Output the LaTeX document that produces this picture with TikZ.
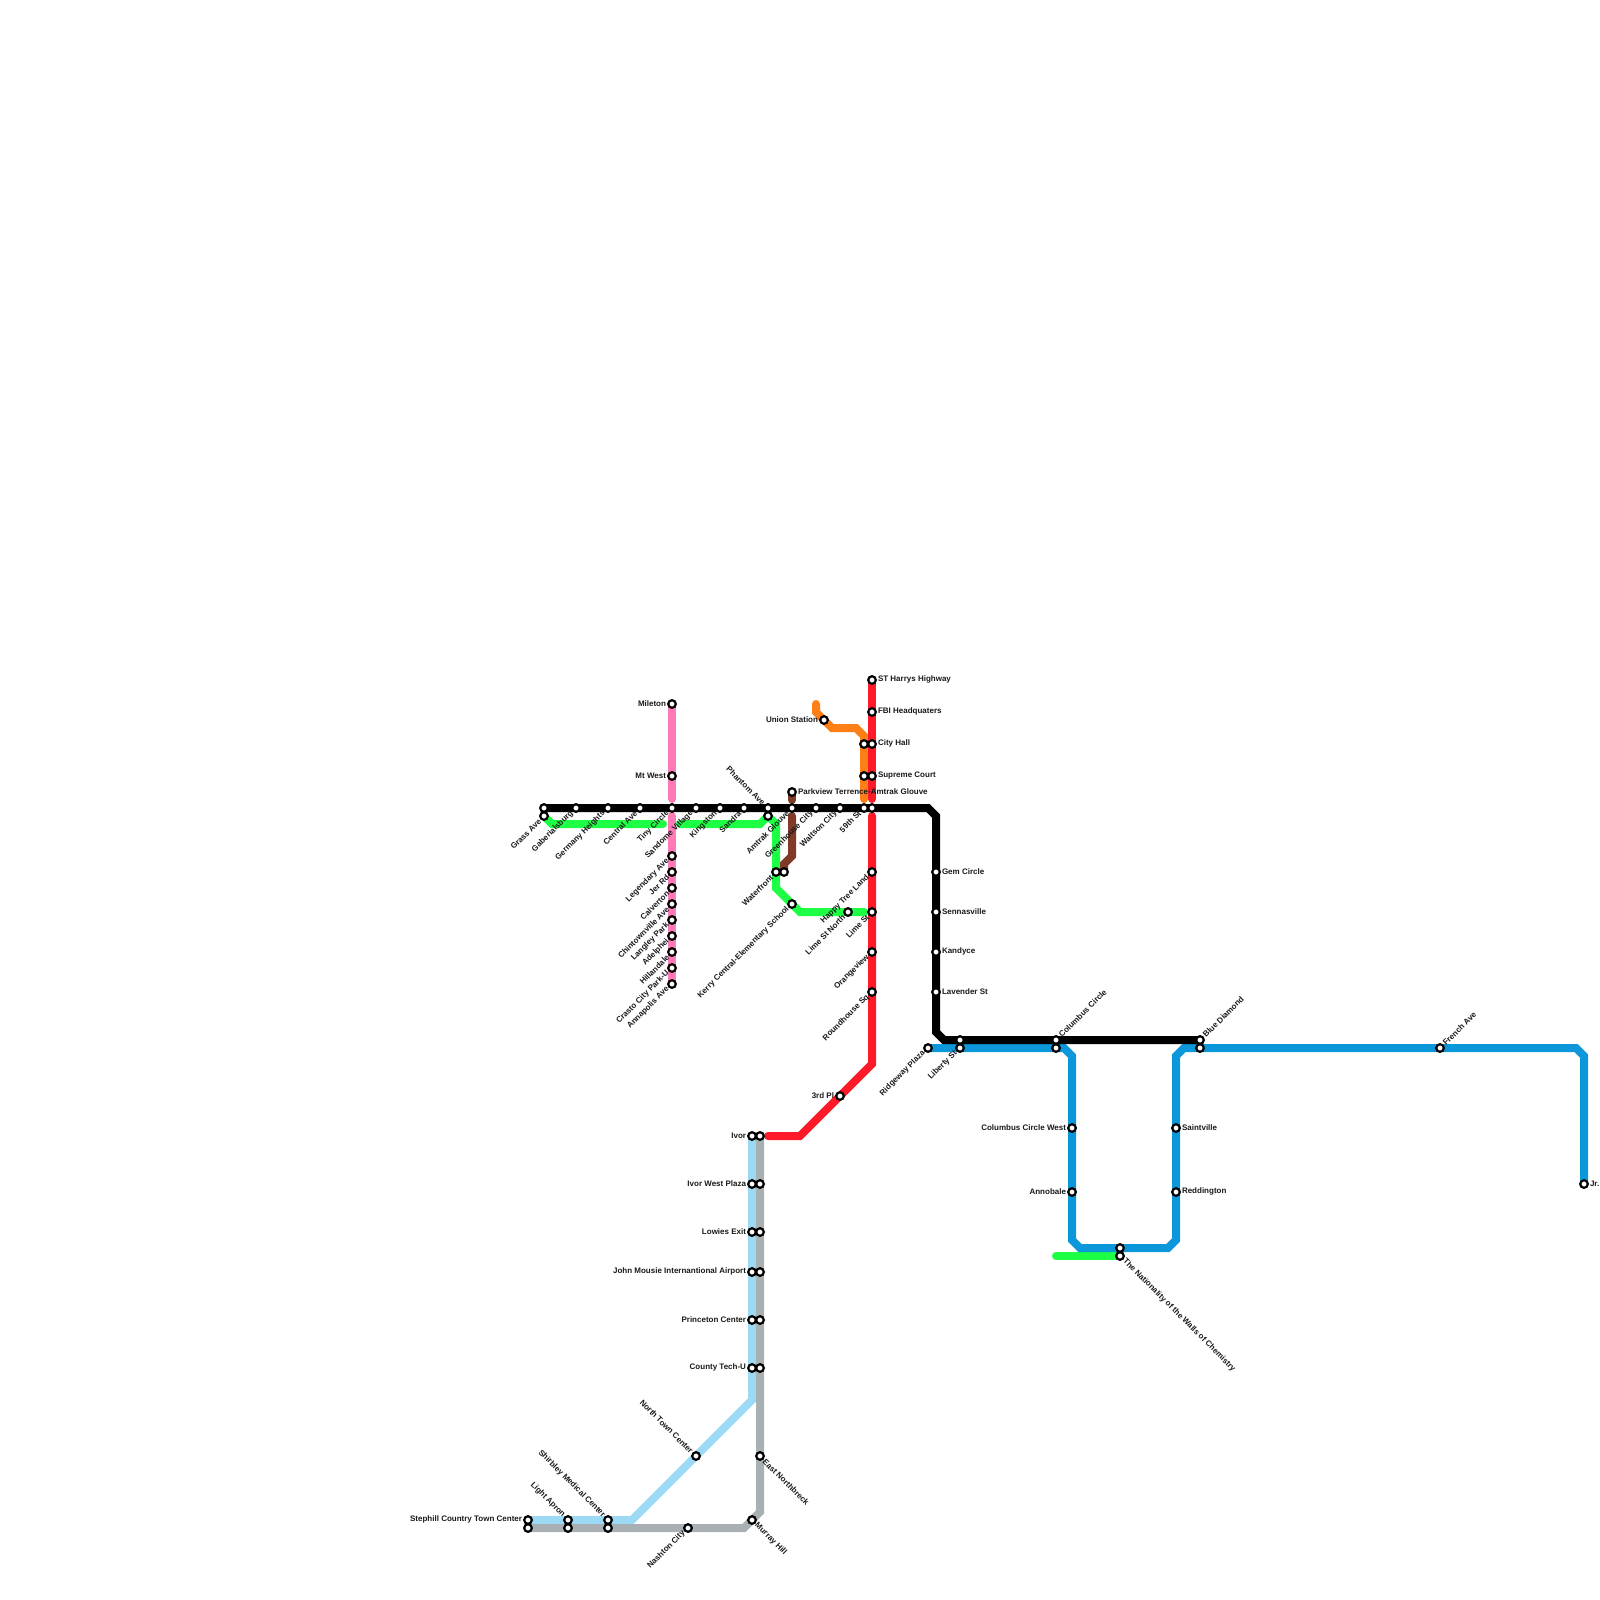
\documentclass[tikz,border=0pt]{standalone}
\usepackage{fontspec}
\setmainfont{Liberation Sans}
\pgfdeclarelayer{lines}
\pgfsetlayers{lines,main}
\definecolor{cBlack}{HTML}{000000}
\definecolor{cPink}{HTML}{FF7BB6}
\definecolor{cGreen}{HTML}{1CFF45}
\definecolor{cBrown}{HTML}{7F3A28}
\definecolor{cOrange}{HTML}{FF7F17}
\definecolor{cRed}{HTML}{FF1A2A}
\definecolor{cBlue}{HTML}{0C97DA}
\definecolor{cSky}{HTML}{9BD9F5}
\definecolor{cGray}{HTML}{A9B0B3}
\tikzset{
  x=1pt,y=-1pt,
  stop/.style={circle,draw=black,fill=white,line width=2.2pt,minimum size=7.6pt,inner sep=0pt,outer sep=0pt},
  metro/.style={line width=8pt,line cap=round,line join=miter,miter limit=10},
  lab/.style={font=\fontsize{8}{9}\selectfont\bfseries,text=black!90,inner sep=0pt,outer sep=0pt},
  dirR/.style={lab,anchor=west,xshift=6pt,yshift=0.3pt},
  dirL/.style={lab,anchor=east,xshift=-6pt,yshift=0.3pt},
  dirDL/.style={lab,anchor=east,xshift=-4.2pt,yshift=-4.2pt,rotate=45},
  dirUR/.style={lab,anchor=west,xshift=4.2pt,yshift=4.2pt,rotate=45},
  dirDR/.style={lab,anchor=west,xshift=4.2pt,yshift=-4.2pt,rotate=-45},
  dirUL/.style={lab,anchor=east,xshift=-4.2pt,yshift=4.2pt,rotate=-45},
}
\newcommand{\stn}[5]{%
  \node[stop] (#1) at (#2,#3) {};
  \node[dir#4] (#1-label) at (#2,#3) {#5};}
\newcommand{\plainstn}[3]{\node[stop] (#1) at (#2,#3) {};}
\begin{document}
\begin{tikzpicture}
\useasboundingbox (0,0) rectangle (1600,1600);
% ---- stations: black line
\plainstn{kGrass}{544}{808}
\stn{kGaber}{576}{808}{DL}{Gaberialsburg}
\stn{kGermany}{608}{808}{DL}{Germany Heights}
\stn{kCentral}{640}{808}{DL}{Central Ave}
\stn{kTiny}{672}{808}{DL}{Tiny Circle}
\stn{kSandome}{696}{808}{DL}{Sandome Village}
\stn{kKingston}{720}{808}{DL}{Kingston}
\stn{kSandra}{744}{808}{DL}{Sandra}
\stn{kPhantom}{768}{808}{UL}{Phantom Ave}
\stn{kAmtrak}{792}{808}{DL}{Amtrak Glouve}
\stn{kGreenhouse}{816}{808}{DL}{Greenhouse City}
\stn{kWaltson}{840}{808}{DL}{Waltson City}
\stn{k59th}{864}{808}{DL}{59th St}
\plainstn{k59b}{872}{808}
\stn{kGem}{936}{872}{R}{Gem Circle}
\stn{kSenna}{936}{912}{R}{Sennasville}
\stn{kKandyce}{936}{952}{R}{Kandyce}
\stn{kLavender}{936}{992}{R}{Lavender St}
\plainstn{kLiberty}{960}{1040}
\stn{kColumbus}{1056}{1040}{UR}{Columbus Circle}
\stn{kDiamond}{1200}{1040}{UR}{Blue Diamond}
\coordinate (kB1) at (928,808); \coordinate (kB2) at (936,816);
\coordinate (kB3) at (936,1032); \coordinate (kB4) at (944,1040);
% ---- pink
\stn{pMileton}{672}{704}{L}{Mileton}
\stn{pMtWest}{672}{776}{L}{Mt West}
\coordinate (pGapA) at (672,799); \coordinate (pGapB) at (672,816);
\stn{pLegend}{672}{856}{DL}{Legendary Ave}
\stn{pJer}{672}{872}{DL}{Jer Rd}
\stn{pCalv}{672}{888}{DL}{Calverton}
\stn{pChin}{672}{904}{DL}{Chintownville Ave}
\stn{pLang}{672}{920}{DL}{Langley Park}
\stn{pAdel}{672}{936}{DL}{Adelphei}
\stn{pHill}{672}{952}{DL}{Hillandale}
\stn{pCrasto}{672}{968}{DL}{Crasto City Park-U}
\stn{pAnna}{672}{984}{DL}{Annapolis Ave}
% ---- green
\stn{gGrass}{544}{816}{DL}{Grass Ave}
\plainstn{gAmtrak}{768}{816}
\stn{gWater}{776}{872}{DL}{Waterfront}
\stn{gKerry}{792}{904}{DL}{Kerry Central-Elementary School}
\stn{gLimeN}{848}{912}{DL}{Lime St North}
\coordinate (gA) at (552,824); \coordinate (gB) at (663,824);
\coordinate (gC) at (680,824); \coordinate (gD) at (760,824);
\coordinate (gE) at (776,824); \coordinate (gF) at (776,888);
\coordinate (gG) at (800,912); \coordinate (gH) at (864,912);
% ---- brown
\stn{bParkview}{792}{792}{R}{Parkview Terrence-Amtrak Glouve}
\plainstn{bGreen}{784}{872}
\coordinate (bTop) at (792,800); \coordinate (bB) at (792,816);
\coordinate (bC) at (792,856); \coordinate (bD) at (784,864);
% ---- orange
\stn{oUnion}{824}{720}{L}{Union Station}
\plainstn{oCity}{864}{744}
\plainstn{oCourt}{864}{776}
\coordinate (oA) at (816,704); \coordinate (oB) at (816,712);
\coordinate (oC) at (832,728); \coordinate (oD) at (856,728);
\coordinate (oE) at (864,736); \coordinate (oF) at (864,799);
% ---- red
\stn{rHarrys}{872}{680}{R}{ST Harrys Highway}
\stn{rFBI}{872}{712}{R}{FBI Headquaters}
\stn{rCity}{872}{744}{R}{City Hall}
\stn{rCourt}{872}{776}{R}{Supreme Court}
\stn{rHappy}{872}{872}{DL}{Happy Tree Land}
\stn{rLime}{872}{912}{DL}{Lime St}
\stn{rOrange}{872}{952}{DL}{Orangeview}
\stn{rRound}{872}{992}{DL}{Roundhouse Sq}
\stn{r3rd}{840}{1096}{L}{3rd Pl}
\coordinate (rA) at (872,799); \coordinate (rB) at (872,816);
\coordinate (rC) at (872,1064); \coordinate (rD) at (800,1136);
\coordinate (rE) at (768,1136);
% ---- blue
\stn{uRidge}{928}{1048}{DL}{Ridgeway Plaza}
\stn{uLiberty}{960}{1048}{DL}{Liberty St}
\plainstn{uColumbus}{1056}{1048}
\stn{uColW}{1072}{1128}{L}{Columbus Circle West}
\stn{uAnno}{1072}{1192}{L}{Annobale}
\plainstn{uNat}{1120}{1248}
\stn{uSaint}{1176}{1128}{R}{Saintville}
\stn{uRedd}{1176}{1192}{R}{Reddington}
\plainstn{uDiamond}{1200}{1048}
\stn{uFrench}{1440}{1048}{UR}{French Ave}
\stn{uJr}{1584}{1184}{R}{Jr.}
\stn{gNat}{1120}{1256}{DR}{The Nationality of the Walls of Chemistry}
\coordinate (gZ) at (1056,1256);
\coordinate (uA) at (1064,1048); \coordinate (uB) at (1072,1056);
\coordinate (uC) at (1072,1240); \coordinate (uD) at (1080,1248);
\coordinate (uE) at (1168,1248); \coordinate (uF) at (1176,1240);
\coordinate (uG) at (1176,1056); \coordinate (uH) at (1184,1048);
\coordinate (uI) at (1576,1048); \coordinate (uJ) at (1584,1056);
% ---- sky and gray
\stn{sIvor}{752}{1136}{L}{Ivor}
\stn{sIvorW}{752}{1184}{L}{Ivor West Plaza}
\stn{sLowies}{752}{1232}{L}{Lowies Exit}
\stn{sJohn}{752}{1272}{L}{John Mousie Internantional Airport}
\stn{sPrince}{752}{1320}{L}{Princeton Center}
\stn{sCounty}{752}{1368}{L}{County Tech-U}
\stn{sNorth}{696}{1456}{UL}{North Town Center}
\stn{sShir}{608}{1520}{UL}{Shirbley Medical Center}
\stn{sLight}{568}{1520}{UL}{Light Apron}
\stn{sSteph}{528}{1520}{L}{Stephill Country Town Center}
\plainstn{aIvor}{760}{1136}
\plainstn{aIvorW}{760}{1184}
\plainstn{aLowies}{760}{1232}
\plainstn{aJohn}{760}{1272}
\plainstn{aPrince}{760}{1320}
\plainstn{aCounty}{760}{1368}
\stn{aEast}{760}{1456}{DR}{East Northbreck}
\stn{aMurray}{752}{1520}{DR}{Murray Hill}
\stn{aNash}{688}{1528}{DL}{Nashton City}
\plainstn{aShir}{608}{1528}
\plainstn{aLight}{568}{1528}
\plainstn{aSteph}{528}{1528}
\coordinate (sA) at (632,1520); \coordinate (sB) at (752,1400);
\coordinate (aA) at (744,1528); \coordinate (aB) at (760,1512);
% ---- lines, behind the stations
\begin{pgfonlayer}{lines}
\draw[metro,cSky,line cap=butt] (sSteph.center) -- (sA) -- (sB) -- (sIvor.center);
\draw[metro,cGray,line cap=butt] (aSteph.center) -- (aA) -- (aB) -- (aIvor.center);
\draw[metro,cPink] (pMileton.center) -- (pGapA);
\draw[metro,cPink] (pGapB) -- (pAnna.center);
\draw[metro,cGreen] (gGrass.center) -- (gA) -- (gB);
\draw[metro,cGreen] (gC) -- (gD) -- (gAmtrak.center) -- (gE) -- (gF) -- (gG) -- (gH);
\draw[metro,cGreen] (gZ) -- (gNat.center);
\draw[metro,cBrown] (bParkview.center) -- (bTop);
\draw[metro,cBrown] (bB) -- (bC) -- (bD) -- (bGreen.center);
\draw[metro,cOrange] (oA) -- (oB) -- (oC) -- (oD) -- (oE) -- (oF);
\draw[metro,cRed] (rHarrys.center) -- (rA);
\draw[metro,cRed] (rB) -- (rC) -- (rD) -- (rE);
\draw[metro,cBlue,line cap=butt] (uRidge.center) -- (uA) -- (uB) -- (uC) -- (uD) -- (uE) -- (uF) -- (uG) -- (uH) -- (uI) -- (uJ) -- (uJr.center);
\draw[metro,cBlack,line cap=butt] (kGrass.center) -- (kB1) -- (kB2) -- (kB3) -- (kB4) -- (kDiamond.center);
\end{pgfonlayer}
\end{tikzpicture}
\end{document}
